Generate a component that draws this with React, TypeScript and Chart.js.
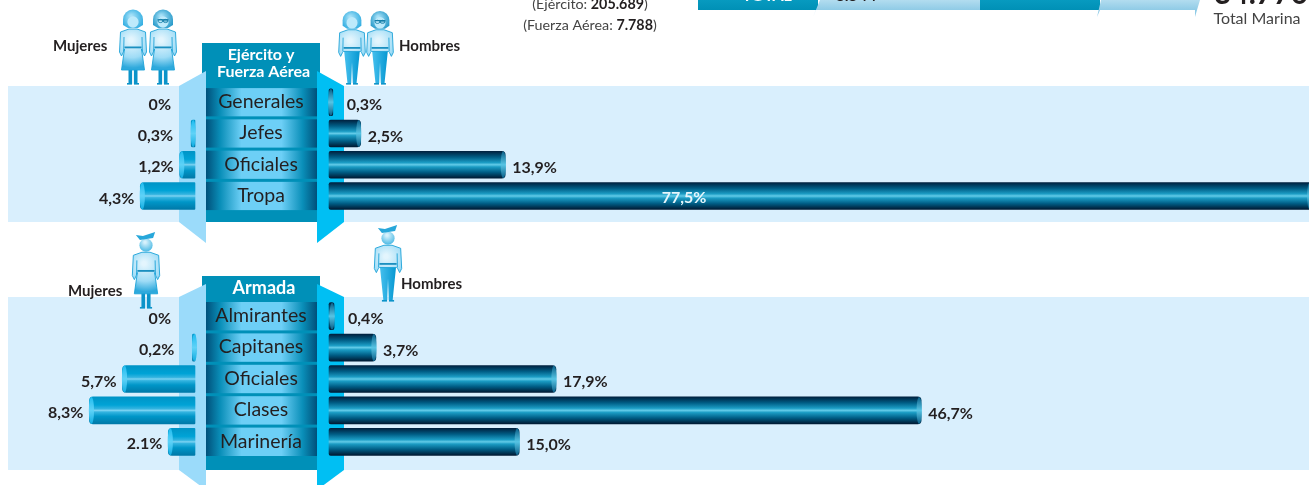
import React, { useEffect, useRef } from "react";
import { Chart, registerables } from "chart.js";

Chart.register(...registerables);

const CATS_TOP = ["Generales", "Jefes", "Oficiales", "Tropa"];
const WOMEN_TOP = [0, 0.3, 1.2, 4.3];
const MEN_TOP = [0.3, 2.5, 13.9, 77.5];
const WOMEN_TOP_LABELS = ["0%", "0,3%", "1,2%", "4,3%"];
const MEN_TOP_LABELS = ["0,3%", "2,5%", "13,9%", "77,5%"];

const CATS_BOTTOM = ["Almirantes", "Capitanes", "Oficiales", "Clases", "Marinería"];
const WOMEN_BOTTOM = [0, 0.2, 5.7, 8.3, 2.1];
const MEN_BOTTOM = [0.4, 3.7, 17.9, 46.7, 15.0];
const WOMEN_BOTTOM_LABELS = ["0%", "0,2%", "5,7%", "8,3%", "2.1%"];
const MEN_BOTTOM_LABELS = ["0,4%", "3,7%", "17,9%", "46,7%", "15,0%"];

const W = 1309;
const H = 485;
const FONT = "Lato";
const BAR_H = 27;
const DARK = "#231f20";

function vGrad(ctx: CanvasRenderingContext2D, y0: number, y1: number, stops: [number, string][]) {
  const g = ctx.createLinearGradient(0, y0, 0, y1);
  stops.forEach(([o, c]) => g.addColorStop(o, c));
  return g;
}
const MEN_STOPS: [number, string][] = [
  [0, "#00213f"], [0.22, "#005d85"], [0.42, "#1b9cc4"], [0.5, "#62cbe8"], [0.58, "#1b9cc4"], [0.78, "#005d85"], [1, "#001a33"],
];
const WOMEN_STOPS: [number, string][] = [
  [0, "#0094c6"], [0.3, "#00a3d6"], [0.44, "#34b4e0"], [0.5, "#7dd3f2"], [0.56, "#34b4e0"], [0.72, "#0096c8"], [1, "#0079a8"],
];

function person(ctx: CanvasRenderingContext2D, cx: number, top: number, height: number, woman: boolean, head: "helmet" | "visor" | "cap") {
  const s = height / 75;
  ctx.save();
  ctx.translate(cx, top);
  ctx.scale(s, s);
  const body = ctx.createRadialGradient(-2, 30, 2, 0, 32, 26);
  body.addColorStop(0, "#e3f5fd");
  body.addColorStop(0.6, "#9fdcf6");
  body.addColorStop(1, "#2ea9dc");
  ctx.strokeStyle = "#1ea3d8";
  ctx.lineWidth = 0.9;
  ctx.fillStyle = "#0b93c9";
  if (woman) {
    ctx.fillRect(-4.5, 58, 3.6, 16);
    ctx.fillRect(0.9, 58, 3.6, 16);
    ctx.fillRect(-6, 73, 5, 1.6);
    ctx.fillRect(1, 73, 5, 1.6);
  } else {
    const lg = ctx.createLinearGradient(-7, 0, 7, 0);
    lg.addColorStop(0, "#42bdec");
    lg.addColorStop(1, "#0a9ad3");
    ctx.fillStyle = lg;
    ctx.beginPath();
    ctx.moveTo(-8, 40);
    ctx.lineTo(8, 40);
    ctx.lineTo(4.6, 73);
    ctx.lineTo(0.8, 73);
    ctx.lineTo(0, 52);
    ctx.lineTo(-0.8, 73);
    ctx.lineTo(-4.6, 73);
    ctx.closePath();
    ctx.fill();
    ctx.fillStyle = "#0b93c9";
    ctx.fillRect(-6, 73, 5, 1.6);
    ctx.fillRect(1, 73, 5, 1.6);
  }
  ctx.fillStyle = body;
  ctx.beginPath();
  ctx.moveTo(-4, 19);
  ctx.lineTo(-12.5, 22);
  ctx.lineTo(-13.5, 42);
  ctx.lineTo(-11.5, 46);
  ctx.lineTo(-9.6, 42);
  if (woman) {
    ctx.lineTo(-8.5, 39);
    ctx.lineTo(-11.5, 60);
    ctx.lineTo(11.5, 60);
    ctx.lineTo(8.5, 39);
  } else {
    ctx.lineTo(-8.5, 41);
    ctx.lineTo(8.5, 41);
  }
  ctx.lineTo(9.6, 42);
  ctx.lineTo(11.5, 46);
  ctx.lineTo(13.5, 42);
  ctx.lineTo(12.5, 22);
  ctx.lineTo(4, 19);
  ctx.closePath();
  ctx.fill();
  ctx.stroke();
  // arm lines and belt
  ctx.beginPath();
  ctx.moveTo(-9, 27);
  ctx.lineTo(-9.3, 41);
  ctx.moveTo(9, 27);
  ctx.lineTo(9.3, 41);
  ctx.stroke();
  ctx.fillStyle = "#1a8fc0";
  ctx.fillRect(-8.5, 36.5, 17, 1.8);
  // head
  const hg = ctx.createRadialGradient(-1, 9, 1, 0, 10, 10);
  hg.addColorStop(0, "#d6f1fc");
  hg.addColorStop(1, "#31afe0");
  if (head === "cap") {
    ctx.fillStyle = hg;
    ctx.beginPath();
    ctx.arc(0, 12, 6.5, 0, Math.PI * 2);
    ctx.fill();
    ctx.fillStyle = "#27a7da";
    ctx.beginPath();
    ctx.moveTo(-10, 2);
    ctx.lineTo(-3, 3);
    ctx.lineTo(9, -1);
    ctx.lineTo(7, 5);
    ctx.lineTo(-6, 7);
    ctx.closePath();
    ctx.fill();
  } else {
    const r = woman ? 10 : 9.5;
    const hair = ctx.createRadialGradient(-2, 6, 1, 0, 9, r + 2);
    hair.addColorStop(0, "#a5e0f7");
    hair.addColorStop(1, head === "visor" ? "#1f95c6" : "#2cabe0");
    ctx.fillStyle = hair;
    ctx.beginPath();
    ctx.arc(0, 9.5, r, Math.PI, 0);
    ctx.lineTo(r, 15);
    ctx.lineTo(5, 18);
    ctx.lineTo(-5, 18);
    ctx.lineTo(-r, 15);
    ctx.closePath();
    ctx.fill();
    ctx.fillStyle = "#bdeafb";
    ctx.beginPath();
    ctx.ellipse(0, 12, 5.6, 5.8, 0, 0, Math.PI * 2);
    ctx.fill();
    if (head === "visor") {
      ctx.fillStyle = "#0f7ba6";
      ctx.fillRect(-5.5, 9.2, 11, 1.2);
      ctx.strokeStyle = "#0f7ba6";
      ctx.lineWidth = 0.8;
      ctx.beginPath();
      ctx.ellipse(-2.6, 11, 2.4, 1.6, 0, 0, Math.PI * 2);
      ctx.ellipse(2.6, 11, 2.4, 1.6, 0, 0, Math.PI * 2);
      ctx.stroke();
    }
  }
  ctx.restore();
}

function text(ctx: CanvasRenderingContext2D, s: string, x: number, y: number, font: string, color: string, align: CanvasTextAlign = "left") {
  ctx.font = font;
  ctx.fillStyle = color;
  ctx.textAlign = align;
  ctx.textBaseline = "middle";
  ctx.fillText(s, x, y);
}

function runs(ctx: CanvasRenderingContext2D, cx: number, y: number, parts: [string, boolean][]) {
  const fontOf = (b: boolean) => `${b ? "bold " : ""}14.3px ${FONT}`;
  let total = 0;
  parts.forEach(([t, b]) => {
    ctx.font = fontOf(b);
    total += ctx.measureText(t).width;
  });
  let x = cx - total / 2;
  parts.forEach(([t, b]) => {
    text(ctx, t, x, y, fontOf(b), b ? DARK : "#444444");
    x += ctx.measureText(t).width;
  });
}

type Panel = {
  cats: string[];
  women: number[];
  men: number[];
  womenLabels: string[];
  menLabels: string[];
  top: number;
  bottom: number;
  bandTop: number;
  bandBottom: number;
  wingTop: number;
  wingBottom: number;
  headerTop: number;
  decorate: (ctx: CanvasRenderingContext2D) => void;
};

function decorTop(ctx: CanvasRenderingContext2D) {
  // clipped strip at the very top
  ctx.fillStyle = vGrad(ctx, -10, 10, [[0, "#0ea4c9"], [1, "#0090b6"]]);
  ctx.fillRect(698, 0, 120, 10);
  ctx.fillRect(978, 0, 122, 10);
  const light = vGrad(ctx, -6, 10, [[0, "#c8e7f5"], [1, "#8fcbe6"]]);
  ctx.fillStyle = light;
  ctx.beginPath();
  ctx.moveTo(820, 0);
  ctx.lineTo(980, 0);
  ctx.lineTo(980, 10);
  ctx.lineTo(816, 10);
  ctx.lineTo(813, 17);
  ctx.closePath();
  ctx.fill();
  ctx.beginPath();
  ctx.moveTo(1101, 0);
  ctx.lineTo(1200, 0);
  ctx.lineTo(1197, 10);
  ctx.lineTo(1195, 17);
  ctx.lineTo(1195, 10);
  ctx.lineTo(1100, 10);
  ctx.lineTo(1097, 17);
  ctx.closePath();
  ctx.fill();
  text(ctx, "TOTAL", 767, -4, `bold 16px ${FONT}`, "#ffffff", "center");
  text(ctx, "6.544", 856, -4, `bold 16px ${FONT}`, DARK, "center");
  text(ctx, "34.770", 1261, -6, `bold 30px ${FONT}`, DARK, "center");
  text(ctx, "Total Marina", 1257, 19, `16px ${FONT}`, "#444444", "center");
  runs(ctx, 590, 4, [["(Ejército: ", false], ["205.689", true], [")", false]]);
  runs(ctx, 590, 25, [["(Fuerza Aérea: ", false], ["7.788", true], [")", false]]);

  person(ctx, 133, 10, 75, true, "helmet");
  person(ctx, 163, 10, 75, true, "visor");
  person(ctx, 352, 11, 74, false, "helmet");
  person(ctx, 380, 11, 74, false, "visor");
  text(ctx, "Mujeres", 53, 46, `bold 15px ${FONT}`, DARK);
  text(ctx, "Hombres", 399, 46, `bold 15px ${FONT}`, DARK);
  text(ctx, "Ejército y", 261, 55, `bold 16px ${FONT}`, "#ffffff", "center");
  text(ctx, "Fuerza Aérea", 263.5, 72, `bold 16px ${FONT}`, "#ffffff", "center");
}

function decorBottom(ctx: CanvasRenderingContext2D) {
  person(ctx, 146, 233, 76, true, "cap");
  person(ctx, 388, 226, 76, false, "cap");
  text(ctx, "Mujeres", 68, 291, `bold 15px ${FONT}`, DARK);
  text(ctx, "Hombres", 401, 284, `bold 15px ${FONT}`, DARK);
  text(ctx, "Armada", 264, 288, `bold 18px ${FONT}`, "#ffffff", "center");
}

const PANEL_TOP: Panel = {
  cats: CATS_TOP, women: WOMEN_TOP, men: MEN_TOP, womenLabels: WOMEN_TOP_LABELS, menLabels: MEN_TOP_LABELS,
  top: 86.6, bottom: 211.6, bandTop: 86, bandBottom: 222, wingTop: 71, wingBottom: 243, headerTop: 43, decorate: decorTop,
};
const PANEL_BOTTOM: Panel = {
  cats: CATS_BOTTOM, women: WOMEN_BOTTOM, men: MEN_BOTTOM, womenLabels: WOMEN_BOTTOM_LABELS, menLabels: MEN_BOTTOM_LABELS,
  top: 300.5, bottom: 457.5, bandTop: 297, bandBottom: 470, wingTop: 284, wingBottom: 490, headerTop: 276, decorate: decorBottom,
};

// horizontal scales: 0% of women sits at x=195, 0% of men at x=329
const PX_M = 12.68;
const PX_W = 12.72;

function makeChart(canvas: HTMLCanvasElement, p: Panel) {
  const stage = {
    id: "stage",
    beforeDatasetsDraw(chart: any) {
      const ctx: CanvasRenderingContext2D = chart.ctx;
      const y = chart.scales.y;
      const step = y.getPixelForValue(1) - y.getPixelForValue(0);
      ctx.save();
      ctx.fillStyle = "#d9effd";
      ctx.fillRect(8, p.bandTop, W - 8, p.bandBottom - p.bandTop);
      // teal column + header
      ctx.fillStyle = "#0090b8";
      ctx.fillRect(202, p.headerTop, 118, p.wingTop + 15 - p.headerTop);
      ctx.fillRect(206, p.headerTop, 111, p.bandBottom - p.headerTop);
      // wings
      ctx.fillStyle = "#9bdbfa";
      ctx.beginPath();
      ctx.moveTo(179, p.bandTop);
      ctx.lineTo(206, p.wingTop);
      ctx.lineTo(206, p.wingBottom);
      ctx.lineTo(179, p.bandBottom);
      ctx.closePath();
      ctx.fill();
      ctx.fillStyle = "#00bff3";
      ctx.beginPath();
      ctx.moveTo(317, p.wingTop);
      ctx.lineTo(344, p.bandTop);
      ctx.lineTo(344, p.bandBottom);
      ctx.lineTo(317, p.wingBottom);
      ctx.closePath();
      ctx.fill();
      // category tiles
      p.cats.forEach((c, i) => {
        const cy = y.getPixelForValue(i);
        const g = ctx.createLinearGradient(206, 0, 317, 0);
        g.addColorStop(0, "#00507a");
        g.addColorStop(0.13, "#0a8fb9");
        g.addColorStop(0.32, "#6dcff6");
        g.addColorStop(0.68, "#6dcff6");
        g.addColorStop(0.87, "#0a8fb9");
        g.addColorStop(1, "#00507a");
        ctx.fillStyle = g;
        ctx.fillRect(206, cy - step / 2 + 1.5, 111, step - 3);
        text(ctx, c, 261, cy - 0.5, `19.5px ${FONT}`, DARK, "center");
      });
      p.decorate(ctx);
      ctx.restore();
    },
    afterDatasetsDraw(chart: any) {
      const ctx: CanvasRenderingContext2D = chart.ctx;
      const y = chart.scales.y;
      ctx.save();
      const cap = (x: number, cy: number, fill: string | CanvasGradient) => {
        ctx.fillStyle = fill;
        ctx.beginPath();
        ctx.ellipse(x, cy, 2.6, BAR_H / 2, 0, 0, Math.PI * 2);
        ctx.fill();
      };
      const valueFont = `bold 16px ${FONT}`;
      p.women.forEach((v, i) => {
        const cy = y.getPixelForValue(i);
        const x = chart.scales.xW.getPixelForValue(v);
        if (v > 0) {
          cap(x + 2, cy, vGrad(ctx, cy - BAR_H / 2, cy + BAR_H / 2, [[0, "#20bdf0"], [0.5, "#5fd2f7"], [1, "#10aee3"]]));
        }
        const gap = v === 0 ? 24 : v < 1 ? 18 : 6;
        text(ctx, p.womenLabels[i], x - gap, cy + 2.5, valueFont, DARK, "right");
      });
      p.men.forEach((v, i) => {
        const cy = y.getPixelForValue(i);
        const x = chart.scales.xM.getPixelForValue(v);
        cap(x - 2, cy, vGrad(ctx, cy - BAR_H / 2, cy + BAR_H / 2, [[0, "#0a5f88"], [0.5, "#56c4e4"], [1, "#0a5f88"]]));
        if (v > 50) {
          text(ctx, p.menLabels[i], chart.scales.xM.getPixelForValue(28), cy + 2, valueFont, "#e6f6fc", "center");
        } else {
          text(ctx, p.menLabels[i], x + (v < 1 ? 14 : 7), cy + 3, valueFont, DARK);
        }
      });
      ctx.restore();
    },
  };

  const fillFor = (stops: [number, string][]) => (c: any) => {
    if (c.raw === 0) return "rgba(0,0,0,0)";
    const cy = c.chart.scales.y ? c.chart.scales.y.getPixelForValue(c.dataIndex) : NaN;
    if (!Number.isFinite(cy)) return stops[3][1];
    return vGrad(c.chart.ctx, cy - BAR_H / 2, cy + BAR_H / 2, stops);
  };

  return new Chart(canvas, {
    type: "bar",
    data: {
      labels: p.cats,
      datasets: [
        {
          label: "Mujeres", data: p.women, xAxisID: "xW", backgroundColor: fillFor(WOMEN_STOPS), borderWidth: 0,
          borderSkipped: false, borderRadius: { topLeft: 4, bottomLeft: 4, topRight: 1, bottomRight: 1 },
        },
        {
          label: "Hombres", data: p.men, xAxisID: "xM", backgroundColor: fillFor(MEN_STOPS), borderWidth: 0,
          borderSkipped: false, borderRadius: { topLeft: 2, bottomLeft: 2, topRight: 4, bottomRight: 4 },
        },
      ],
    },
    options: {
      indexAxis: "y",
      responsive: false,
      animation: false,
      events: [],
      layout: { padding: { top: p.top, bottom: H - p.bottom, left: 0, right: 0 } },
      datasets: { bar: { grouped: false, barThickness: BAR_H, clip: false } },
      plugins: { legend: { display: false }, tooltip: { enabled: false }, title: { display: false } },
      scales: {
        y: { type: "category", display: false },
        xM: { type: "linear", display: false, axis: "x", min: -329 / PX_M, max: (W - 329) / PX_M },
        xW: { type: "linear", display: false, axis: "x", reverse: true, min: -(W - 195) / PX_W, max: 195 / PX_W },
      },
    },
    plugins: [stage],
  } as any);
}

export default function App() {
  const a = useRef<HTMLCanvasElement>(null);
  const b = useRef<HTMLCanvasElement>(null);
  useEffect(() => {
    document.body.style.margin = "0";
    document.body.style.background = "#ffffff";
    const c1 = makeChart(a.current!, PANEL_TOP);
    const c2 = makeChart(b.current!, PANEL_BOTTOM);
    return () => {
      c1.destroy();
      c2.destroy();
    };
  }, []);
  const style: React.CSSProperties = { position: "absolute", left: 0, top: 0, display: "block" };
  return (
    <div style={{ position: "relative", width: W, height: H, overflow: "hidden" }}>
      <canvas ref={a} width={W} height={H} style={style} />
      <canvas ref={b} width={W} height={H} style={style} />
    </div>
  );
}
